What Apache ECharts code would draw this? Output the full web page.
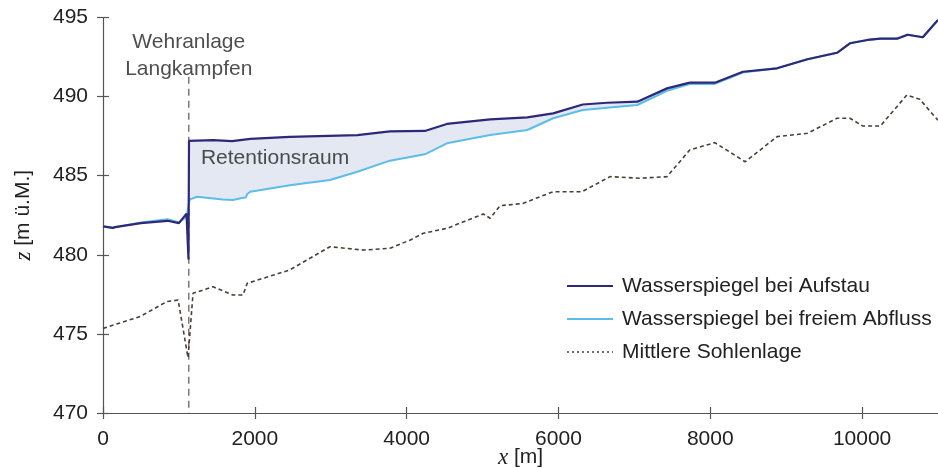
<!DOCTYPE html>
<html>
<head>
<meta charset="utf-8">
<script src="https://cdn.jsdelivr.net/npm/echarts@6/dist/echarts.min.js"></script>
<style>html,body{margin:0;padding:0;background:#fff}#c{width:938px;height:468px}</style>
</head>
<body>
<div id="c"></div>
<script>
// Data (x in m, z in m ü.M.)
const aufstau = [
  [0, 481.8], [130, 481.7], [160, 481.75], [500, 482.0], [850, 482.15], [1000, 482.0],
  [1100, 482.6], [1126, 479.7], [1133, 487.2], [1146, 487.2], [1450, 487.25], [1700, 487.18],
  [1940, 487.33], [2460, 487.45], [3350, 487.57], [3780, 487.8], [4240, 487.83], [4530, 488.27],
  [5100, 488.56], [5590, 488.69], [5930, 488.94], [6320, 489.5], [6640, 489.61], [7040, 489.68],
  [7430, 490.52], [7730, 490.88], [8060, 490.88], [8430, 491.57], [8880, 491.79], [9280, 492.36],
  [9670, 492.77], [9840, 493.37], [10070, 493.58], [10240, 493.66], [10460, 493.66], [10600, 493.91],
  [10800, 493.75], [11000, 494.85]
];
const freierAbfluss = [
  [0, 481.8], [130, 481.7], [160, 481.75], [500, 482.05], [850, 482.25], [1000, 482.05],
  [1100, 482.4], [1135, 483.35], [1146, 483.5], [1240, 483.67], [1580, 483.5], [1710, 483.46],
  [1845, 483.6], [1880, 483.62], [1900, 483.84], [1940, 483.99], [2460, 484.4], [2990, 484.73],
  [3350, 485.25], [3780, 485.95], [4240, 486.35], [4530, 487.05], [5100, 487.57], [5590, 487.89],
  [5930, 488.63], [6320, 489.15], [7040, 489.47], [7430, 490.37], [7730, 490.8], [8060, 490.8],
  [8430, 491.52], [8880, 491.79], [9280, 492.36], [9670, 492.77], [9840, 493.37], [10070, 493.58],
  [10240, 493.66], [10460, 493.66], [10600, 493.91], [10800, 493.75], [11000, 494.85]
];
const sohle = [
  [0, 475.35], [490, 476.1], [840, 477.04], [990, 477.14], [1120, 473.5], [1186, 477.57],
  [1450, 477.98], [1710, 477.46], [1845, 477.46], [1900, 478.2], [2460, 479.04], [2990, 480.51],
  [3430, 480.3], [3780, 480.41], [4050, 480.94], [4220, 481.36], [4530, 481.67], [5010, 482.58],
  [5100, 482.31], [5230, 483.1], [5530, 483.25], [5930, 483.99], [6310, 483.99], [6680, 484.94],
  [7075, 484.84], [7430, 484.94], [7730, 486.63], [8060, 487.09], [8460, 485.88], [8880, 487.47],
  [9280, 487.68], [9670, 488.63], [9840, 488.63], [10010, 488.14], [10240, 488.14], [10590, 490.1],
  [10760, 489.83], [11000, 488.5]
];
const weirX = 1130;
const weirLine = [[weirX, 491.25], [weirX, 470]];
const weirLabel = 'Wehranlage\nLangkampfen';
const retentionLabelPos = [1290, 486.1];
const retentionLabel = 'Retentionsraum';
const xTicks = [0, 2000, 4000, 6000, 8000, 10000];
const yTicks = [470, 475, 480, 485, 490, 495];
const seriesNames = ['Wasserspiegel bei Aufstau', 'Wasserspiegel bei freiem Abfluss', 'Mittlere Sohlenlage'];

const FONT = 'Liberation Sans, Arial, sans-serif';
const TXT = '#222';
const AX = '#555';
const DARK = '#2e2878';
const LIGHT = '#5cbde8';
const BED = '#4a3f33';

const upper = aufstau.filter(p => p[0] >= 1133);
const lower = freierAbfluss.filter(p => p[0] >= 1133);

const chart = echarts.init(document.getElementById('c'), null, {renderer: 'canvas'});
const baseX = {
  type: 'value', min: 0, max: 11000, position: 'bottom',
  splitLine: {show: false}
};
const baseY = {
  type: 'value', min: 470, max: 495, interval: 5, position: 'left',
  splitLine: {show: false}
};
chart.setOption({
  animation: false,
  backgroundColor: '#fff',
  textStyle: {fontFamily: FONT},
  grid: {left: 103, right: 0, top: 17.5, bottom: 55, containLabel: false, outerBoundsMode: 'none'},
  xAxis: [
    Object.assign({}, baseX, {
      name: '{i|x} [m]', nameLocation: 'middle', nameGap: 33, nameMoveOverlap: false,
      nameTextStyle: {fontSize: 21, color: TXT, fontFamily: FONT,
        rich: {i: {fontFamily: 'Liberation Serif, serif', fontStyle: 'italic', fontSize: 23, color: TXT}}},
      axisLine: {show: true, lineStyle: {color: AX, width: 1.2}},
      axisTick: {show: true, inside: false, length: 6, lineStyle: {color: AX, width: 1.2}, customValues: xTicks},
      axisLabel: {fontSize: 21, color: TXT, margin: 16, customValues: xTicks, fontFamily: FONT,
        formatter: v => String(v)}
    }),
    Object.assign({}, baseX, {
      axisLine: {show: false},
      axisTick: {show: true, inside: true, length: 6, lineStyle: {color: AX, width: 1.2}, customValues: xTicks},
      axisLabel: {show: false}
    })
  ],
  yAxis: [
    Object.assign({}, baseY, {
      name: '{i|z} [m ü.M.]', nameLocation: 'middle', nameGap: 68, nameMoveOverlap: false,
      nameTextStyle: {fontSize: 21, color: TXT, fontFamily: FONT,
        rich: {i: {fontFamily: 'Liberation Serif, serif', fontStyle: 'italic', fontSize: 23, color: TXT}}},
      axisLine: {show: true, lineStyle: {color: AX, width: 1.2}},
      axisTick: {show: true, inside: false, length: 6, lineStyle: {color: AX, width: 1.2}, customValues: yTicks},
      axisLabel: {fontSize: 21, color: TXT, margin: 15, customValues: yTicks, fontFamily: FONT,
        formatter: v => String(v)}
    }),
    Object.assign({}, baseY, {
      axisLine: {show: false},
      axisTick: {show: true, inside: true, length: 6, lineStyle: {color: AX, width: 1.2}, customValues: yTicks},
      axisLabel: {show: false}
    })
  ],
  legend: {
    orient: 'vertical', left: 566, top: 274, itemGap: 9, padding: 0,
    itemWidth: 46, itemHeight: 14,
    itemStyle: {opacity: 0},
    textStyle: {fontSize: 21, color: TXT, fontFamily: FONT, lineHeight: 24, padding: [0, 0, 0, 4]},
    data: [
      {name: seriesNames[0], itemStyle: {opacity: 0}},
      {name: seriesNames[1], itemStyle: {opacity: 0}},
      {name: seriesNames[2], itemStyle: {opacity: 0}, lineStyle: {type: [2, 3], width: 1.5}}
    ]
  },
  series: [
    {
      type: 'custom', name: 'retention', silent: true, z: 1,
      coordinateSystem: 'cartesian2d',
      data: [[upper[0][0], upper[0][1]]],
      renderItem: function (params, api) {
        const pts = upper.map(p => api.coord(p)).concat(lower.slice().reverse().map(p => api.coord(p)));
        return {type: 'polygon', shape: {points: pts}, style: {fill: '#e4e8f3', stroke: null}};
      }
    },
    {
      type: 'line', name: 'weir', data: weirLine, symbol: 'none', silent: true, z: 2,
      lineStyle: {color: '#7a7a7a', width: 1.5, type: [7, 5]}
    },
    {
      type: 'scatter', name: 'weirLabel', data: [weirLine[0]], symbolSize: 0, silent: true, z: 6,
      label: {show: true, position: 'top', distance: 0, offset: [0, 6], formatter: weirLabel,
        fontSize: 21, lineHeight: 27, color: TXT, fontFamily: FONT}
    },
    {
      type: 'line', name: seriesNames[2], data: sohle, symbol: 'none', z: 3,
      lineStyle: {color: BED, width: 1.6, type: [4, 3]}, itemStyle: {color: BED}
    },
    {
      type: 'line', name: seriesNames[1], data: freierAbfluss, symbol: 'none', z: 4,
      lineStyle: {color: LIGHT, width: 2}, itemStyle: {color: LIGHT}
    },
    {
      type: 'line', name: seriesNames[0], data: aufstau, symbol: 'none', z: 5,
      lineStyle: {color: DARK, width: 2.2}, itemStyle: {color: DARK}
    },
    {
      type: 'scatter', name: 'retLabel', data: [retentionLabelPos], symbolSize: 0, silent: true, z: 6,
      label: {show: true, position: 'right', distance: 0, formatter: retentionLabel,
        fontSize: 21, color: TXT, fontFamily: FONT}
    }
  ]
});
</script>
</body>
</html>
